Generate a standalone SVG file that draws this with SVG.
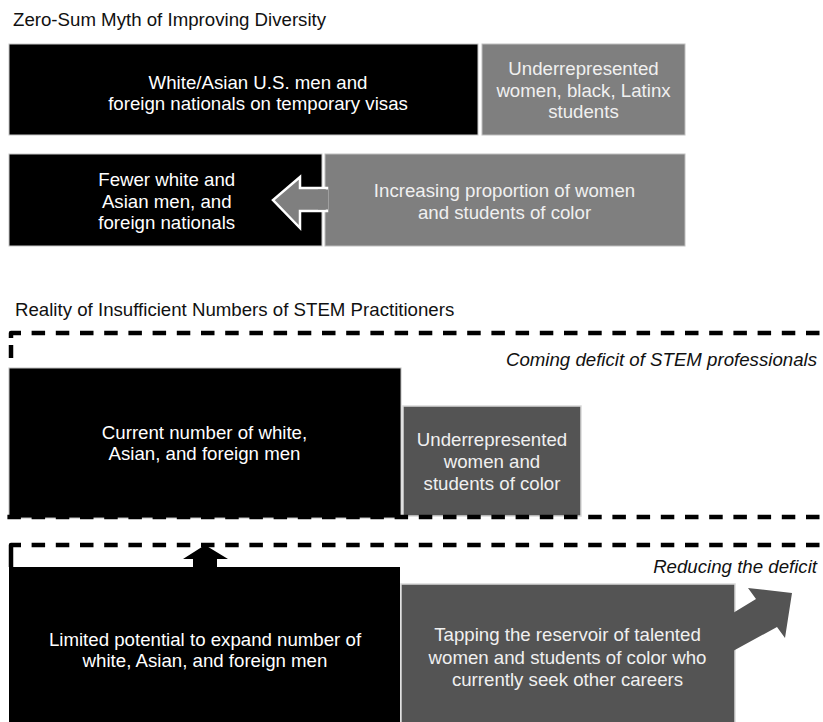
<svg xmlns="http://www.w3.org/2000/svg" width="823" height="722" viewBox="0 0 823 722">
<style>
text{font-family:"Liberation Sans",Arial,sans-serif;font-size:18.67px}
.title{fill:#111}
.it{fill:#111;font-style:italic;text-anchor:end}
.wt{fill:#ffffff;text-anchor:middle}
.lt{fill:#f0f0f0;text-anchor:middle}
.blk{fill:#000;stroke:#c8c8c8;stroke-width:1}
.g1{fill:#7f7f7f;stroke:#bfbfbf;stroke-width:1}
.g2{fill:#545454;stroke:#d9d9d9;stroke-width:1.5}
.dash{fill:none;stroke:#000;stroke-width:4.5;stroke-dasharray:13.5 10.7}
.solid{fill:none;stroke:#000;stroke-width:4.5;stroke-linejoin:round}
</style>
<text class="title" x="13" y="26">Zero-Sum Myth of Improving Diversity</text>
<text class="title" x="15" y="316">Reality of Insufficient Numbers of STEM Practitioners</text>

<g id="node-majority">
<rect class="blk" x="9" y="44" width="469" height="91"/>
<text class="wt" x="258" y="88.5">White/Asian U.S. men and</text>
<text class="wt" x="258" y="109.5">foreign nationals on temporary visas</text>
</g>
<g id="node-underrep">
<rect class="g1" x="482" y="44" width="203" height="91"/>
<text class="lt" x="583.5" y="75">Underrepresented</text>
<text class="lt" x="583.5" y="96.5">women, black, Latinx</text>
<text class="lt" x="583.5" y="118">students</text>
</g>
<g id="node-fewer">
<rect class="blk" x="9" y="154" width="313" height="92"/>
<text class="wt" x="166.7" y="186">Fewer white and</text>
<text class="wt" x="166.7" y="207.5">Asian men, and</text>
<text class="wt" x="166.7" y="229">foreign nationals</text>
</g>
<g id="node-increasing">
<rect class="g1" x="325" y="154" width="360" height="92"/>
<polygon points="327,188 300,188 300,177 273,200 300,228 300,211 327,211" fill="#7f7f7f" stroke="#ffffff" stroke-width="2.5" stroke-linejoin="miter"/>
<rect x="318" y="189.5" width="10" height="20" fill="#7f7f7f"/>
<text class="lt" x="504.5" y="197">Increasing proportion of women</text>
<text class="lt" x="504.5" y="219">and students of color</text>
</g>

<g id="node-current">
<rect x="9" y="368" width="392" height="150" fill="#000" stroke="#bdbdbd" stroke-width="1"/>
<text class="wt" x="204.5" y="438.5">Current number of white,</text>
<text class="wt" x="204.5" y="460">Asian, and foreign men</text>
</g>
<g id="node-current-underrep">
<rect class="g2" x="403" y="406" width="178" height="110"/>
<text class="lt" x="492" y="446">Underrepresented</text>
<text class="lt" x="492" y="468">women and</text>
<text class="lt" x="492" y="489.5">students of color</text>
</g>
<g id="node-limited">
<rect x="9" y="567" width="391" height="160" fill="#000"/>
<text class="wt" x="205" y="646">Limited potential to expand number of</text>
<text class="wt" x="205" y="667">white, Asian, and foreign men</text>
</g>
<g id="node-tapping">
<rect class="g2" x="401" y="584" width="334" height="145"/>
<polygon points="733,613 756,599 748,588 792,593 785,638 777,627 733,651" fill="#545454"/>
<text class="lt" x="567.5" y="641">Tapping the reservoir of talented</text>
<text class="lt" x="567.5" y="663.5">women and students of color who</text>
<text class="lt" x="567.5" y="686">currently seek other careers</text>
</g>

<g id="connectors">
<path class="solid" d="M11,338 V333 H21"/>
<path class="dash" d="M31.6,333 H823"/>
<path class="solid" d="M11,345 V358"/>
<path class="dash" d="M7.4,517 H823"/>
<path class="solid" d="M11,567 V545 H21"/>
<path class="dash" d="M31.6,545 H823"/>
<polygon points="205,545 228,559 217,559 217,568 193,568 193,559 183,559" fill="#000"/>
</g>

<text class="it" x="817" y="366">Coming deficit of STEM professionals</text>
<text class="it" x="817" y="573">Reducing the deficit</text>
</svg>
